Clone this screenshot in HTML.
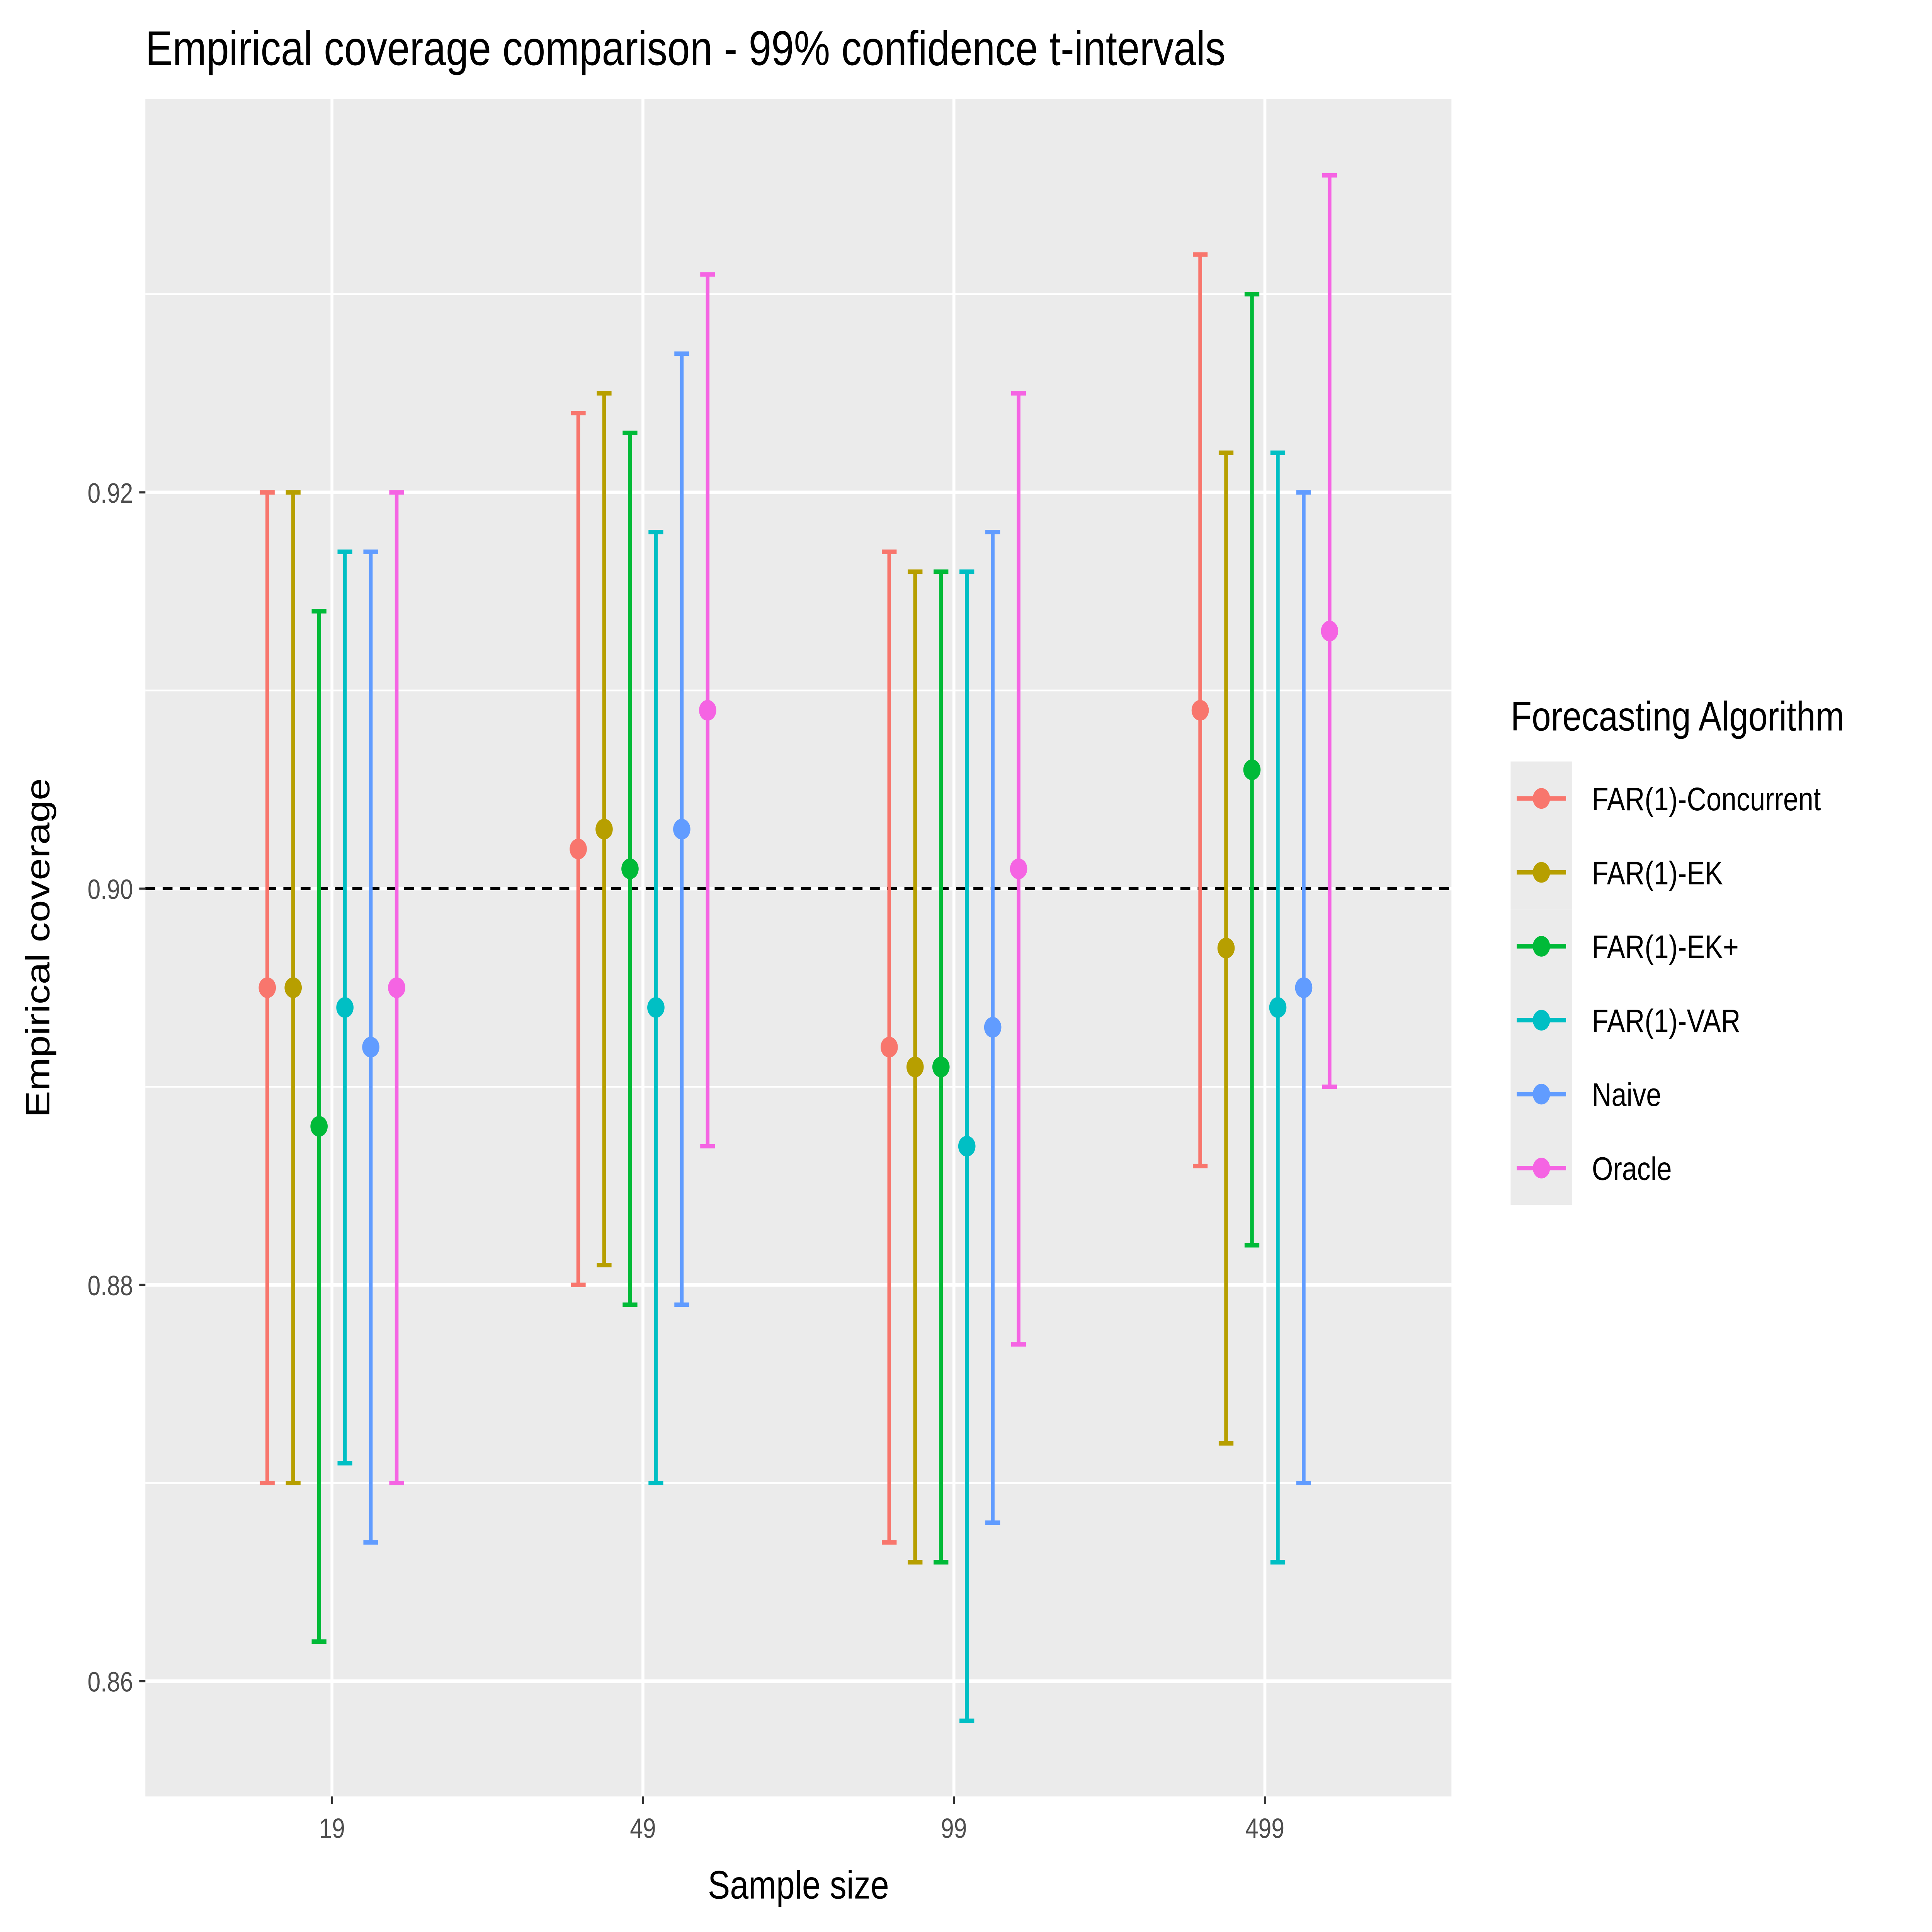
<!DOCTYPE html>
<html><head><meta charset="utf-8"><style>
html,body{margin:0;padding:0;background:#fff;width:100%;height:100%;overflow:hidden;}
svg{display:block;width:100vw;height:100vh;font-family:"Liberation Sans",Arial,sans-serif;}
</style></head><body>
<svg id="chart" viewBox="0 0 1568 1306.67" preserveAspectRatio="none" xmlns="http://www.w3.org/2000/svg">
<rect x="0" y="0" width="1568" height="1307" fill="#fff"/>
<text x="118" y="44" font-size="33" fill="#000">Empirical coverage comparison - 99% confidence t-intervals</text>
<rect x="118" y="67" width="1060" height="1148" fill="#EBEBEB"/>
<g id="grid"></g>
<g id="marks"></g>
<g id="axes"></g>
<text x="648" y="1284" font-size="27" text-anchor="middle" fill="#000">Sample size</text>
<text transform="translate(40,641) rotate(-90)" font-size="27" text-anchor="middle" fill="#000">Empirical coverage</text>
<text x="1226" y="494" font-size="28" fill="#000">Forecasting Algorithm</text>
<g id="legend"></g>
</svg>
<script>
const categories = ["19","49","99","499"];
const seriesNames = ["FAR(1)-Concurrent","FAR(1)-EK","FAR(1)-EK+","FAR(1)-VAR","Naive","Oracle"];
const colors = ["#F8766D","#B79F00","#00BA38","#00BFC4","#619CFF","#F564E3"];
const estConc = [0.895,0.902,0.892,0.909];
const lowConc = [0.870,0.880,0.867,0.886];
const highConc = [0.920,0.924,0.917,0.932];
const estEK = [0.895,0.903,0.891,0.897];
const lowEK = [0.870,0.881,0.866,0.872];
const highEK = [0.920,0.925,0.916,0.922];
const estEKp = [0.888,0.901,0.891,0.906];
const lowEKp = [0.862,0.879,0.866,0.882];
const highEKp = [0.914,0.923,0.916,0.930];
const estVAR = [0.894,0.894,0.887,0.894];
const lowVAR = [0.871,0.870,0.858,0.866];
const highVAR = [0.917,0.918,0.916,0.922];
const estNaive = [0.892,0.903,0.893,0.895];
const lowNaive = [0.867,0.879,0.868,0.870];
const highNaive = [0.917,0.927,0.918,0.920];
const estOracle = [0.895,0.909,0.901,0.913];
const lowOracle = [0.870,0.887,0.877,0.890];
const highOracle = [0.920,0.931,0.925,0.936];
const yTicks = [0.86,0.88,0.90,0.92];
const yMinor = [0.87,0.89,0.91,0.93];
const refLine = 0.90;

const NS="http://www.w3.org/2000/svg";
const L=118,R=1178,T=67,B=1215;
const yMin=0.85418, yMax=0.93985;
function y(v){return B-(v-yMin)/(yMax-yMin)*(B-T);}
const step=(R-L)/4.2;
function x(i){return L+step*(0.6+i);}
const dodge=21;
function mk(tag,attrs,parent){const e=document.createElementNS(NS,tag);for(const k in attrs)e.setAttribute(k,attrs[k]);document.getElementById(parent).appendChild(e);return e;}

yMinor.forEach(v=>{const e=mk("line",{x1:L,x2:R,y1:y(v),y2:y(v),stroke:"#fff","stroke-width":1.2},"grid");

});
yTicks.forEach(v=>{const e=mk("line",{x1:L,x2:R,y1:y(v),y2:y(v),stroke:"#fff","stroke-width":2.4},"grid");


const t=mk("text",{x:L-10,y:y(v)+7,"font-size":19,"text-anchor":"end",fill:"#4D4D4D"},"axes");t.textContent=v.toFixed(2);


const tk=mk("line",{x1:L-5,x2:L,y1:y(v),y2:y(v),stroke:"#333","stroke-width":1.5},"axes");

});
categories.forEach((c,i)=>{const e=mk("line",{x1:x(i),x2:x(i),y1:T,y2:B,stroke:"#fff","stroke-width":2.4},"grid");


const t=mk("text",{x:x(i),y:B+28,"font-size":19,"text-anchor":"middle",fill:"#4D4D4D"},"axes");t.textContent=c;


const tk=mk("line",{x1:x(i),x2:x(i),y1:B,y2:B+5,stroke:"#333","stroke-width":1.5},"axes");

});
const rl=mk("line",{x1:L,x2:R,y1:y(refLine),y2:y(refLine),stroke:"#000","stroke-width":2,"stroke-dasharray":"8,6"},"marks");



const est=[estConc,estEK,estEKp,estVAR,estNaive,estOracle];
const low=[lowConc,lowEK,lowEKp,lowVAR,lowNaive,lowOracle];
const high=[highConc,highEK,highEKp,highVAR,highNaive,highOracle];
seriesNames.forEach((s,si)=>{categories.forEach((c,i)=>{
const cx=x(i)+(si-2.5)*dodge;const col=colors[si];
const v=mk("line",{x1:cx,x2:cx,y1:y(low[si][i]),y2:y(high[si][i]),stroke:col,"stroke-width":3},"marks");


[low[si][i],high[si][i]].forEach(w=>{const h=mk("line",{x1:cx-6,x2:cx+6,y1:y(w),y2:y(w),stroke:col,"stroke-width":3},"marks");

});
const p=mk("circle",{cx:cx,cy:y(est[si][i]),r:7,fill:col},"marks");


});
const ly=540+si*50;
const bg=mk("rect",{x:1226,y:ly-25,width:50,height:50,fill:"#EBEBEB"},"legend");


const ll=mk("line",{x1:1231,x2:1271,y1:ly,y2:ly,stroke:colors[si],"stroke-width":3},"legend");


const lc=mk("circle",{cx:1251,cy:ly,r:7,fill:colors[si]},"legend");


const lt=mk("text",{x:1292,y:ly+8,"font-size":22,fill:"#000"},"legend");lt.textContent=s;


});
</script>
</body></html>
